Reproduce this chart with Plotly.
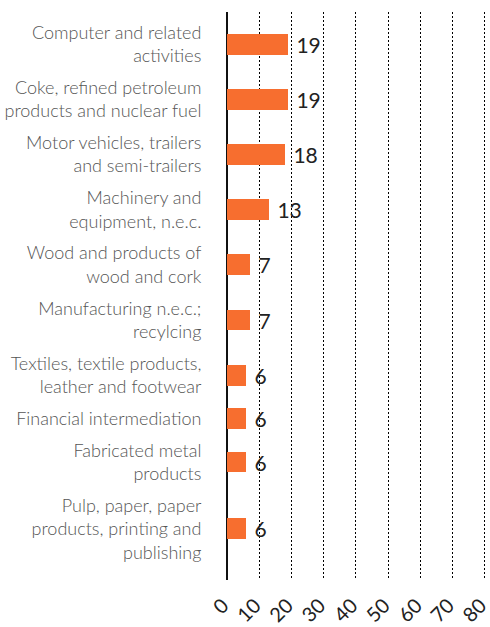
import plotly.graph_objects as go

# Sectors (top to bottom) and their values
sectors = [
    "Computer and related<br>activities",
    "Coke, refined petroleum<br>products and nuclear fuel",
    "Motor vehicles, trailers<br>and semi-trailers",
    "Machinery and<br>equipment, n.e.c.",
    "Wood and products of<br>wood and cork",
    "Manufacturing n.e.c.;<br>recylcing",
    "Textiles, textile products,<br>leather and footwear",
    "Financial intermediation",
    "Fabricated metal<br>products",
    "Pulp, paper, paper<br>products, printing and<br>publishing",
]
values = [19, 19, 18, 13, 7, 7, 6, 6, 6, 6]
x_ticks = [0, 10, 20, 30, 40, 50, 60, 70, 80]

# Each row gets vertical room in proportion to the lines its label needs
GAP = 0.35
heights = [s.count("<br>") + 1 + GAP for s in sectors]
centers = []
acc = 0.0
for h in heights:
    centers.append(acc + h / 2)
    acc += h

fig = go.Figure(
    go.Bar(
        x=values,
        y=centers,
        orientation="h",
        width=0.89,
        marker=dict(color="#F76E2F", line=dict(width=0)),
        text=[f" {v}" for v in values],
        textposition="outside",
        constraintext="none",
        textfont=dict(family="Lato", size=21, color="#222222"),
        cliponaxis=False,
        hoverinfo="skip",
    )
)

fig.update_layout(
    template="none",
    width=490,
    height=627,
    margin=dict(l=227, r=4, t=12, b=47),
    plot_bgcolor="white",
    paper_bgcolor="white",
    showlegend=False,
    bargap=0,
)

fig.update_xaxes(
    range=[0, 80.4],
    tickvals=x_ticks,
    ticktext=[str(t) for t in x_ticks],
    tickangle=-45,
    tickfont=dict(family="Lato", size=20, color="#222222"),
    ticklabeloverflow="allow",
    ticklabelshift=-4,
    ticks="outside",
    ticklen=5,
    tickcolor="rgba(0,0,0,0)",
    showgrid=True,
    gridcolor="#000000",
    griddash="1.5px,2.5px",
    gridwidth=1.4,
    zeroline=True,
    zerolinecolor="#111111",
    zerolinewidth=2,
    showline=False,
    automargin=False,
    fixedrange=True,
)

fig.update_yaxes(
    range=[24.0, -0.19],
    tickvals=centers,
    ticktext=sectors,
    tickfont=dict(family="Lato", size=18, color="#555555", weight=300),
    ticks="outside",
    ticklen=21,
    tickcolor="rgba(0,0,0,0)",
    showgrid=False,
    zeroline=False,
    showline=False,
    automargin=False,
    fixedrange=True,
)

fig.write_html("out.html")
